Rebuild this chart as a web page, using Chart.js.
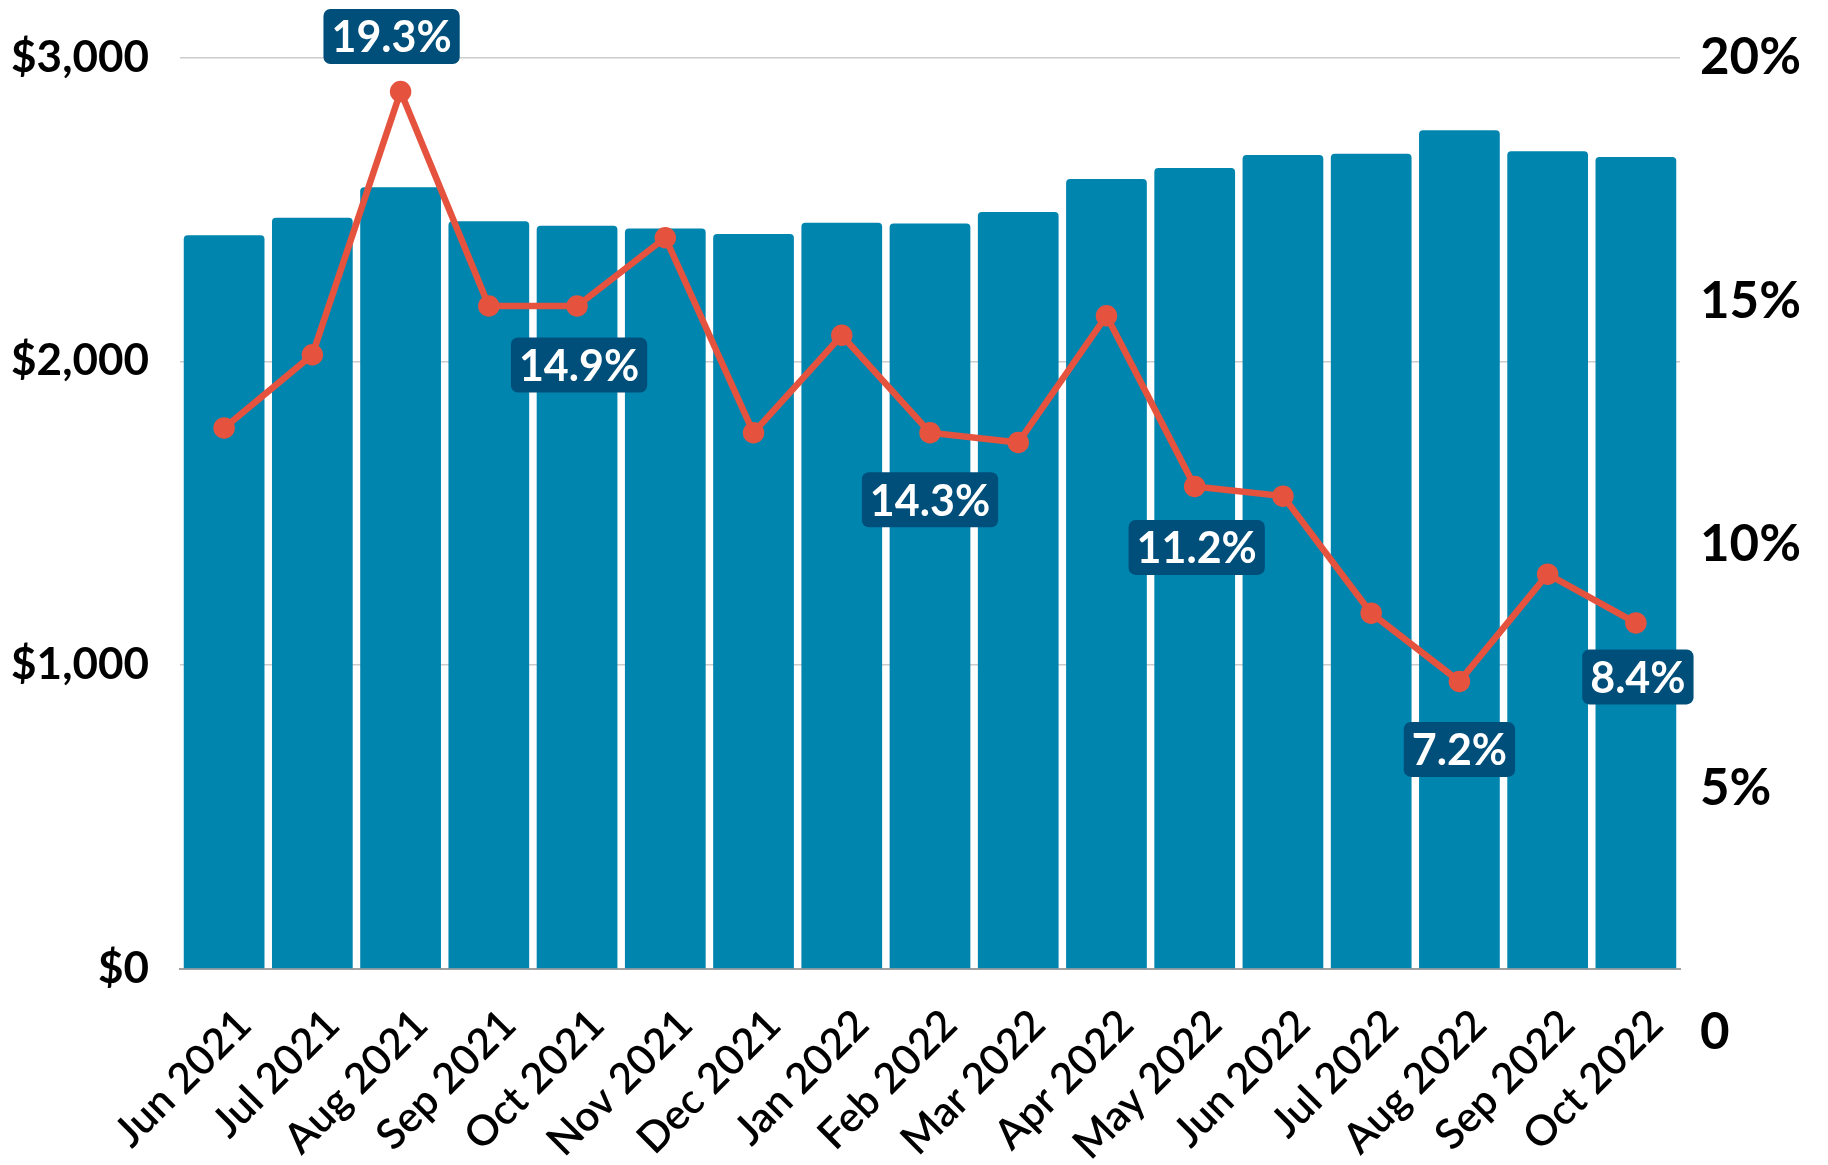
<!DOCTYPE html>
<html lang="en">
<head>
    <meta charset="UTF-8" />
    <title>Monthly Price and Yearly Change</title>
    <script src="https://cdn.jsdelivr.net/npm/chart.js"></script>
    <style>
        html, body { margin: 0; padding: 0; background: #ffffff; }
        #chartContainer { width: 1828px; height: 1165px; }
    </style>
</head>
<body>

<div id="chartContainer">
    <canvas id="myChart"></canvas>
</div>

<script>
    // data
    const months = ['Jun 2021', 'Jul 2021', 'Aug 2021', 'Sep 2021', 'Oct 2021', 'Nov 2021',
        'Dec 2021', 'Jan 2022', 'Feb 2022', 'Mar 2022', 'Apr 2022', 'May 2022',
        'Jun 2022', 'Jul 2022', 'Aug 2022', 'Sep 2022', 'Oct 2022'];
    const avgPrice = [2415, 2472, 2573, 2461, 2446, 2437, 2419, 2456, 2453, 2491,
        2600, 2636, 2679, 2683, 2760, 2691, 2672];
    const yoyChange = [12.4, 13.9, 19.3, 14.9, 14.9, 16.3, 12.3, 14.3, 12.3, 12.1,
        14.7, 11.2, 11.0, 8.6, 7.2, 9.4, 8.4];
    const leftTicks = [0, 1000, 2000, 3000];
    const rightTicks = [0, 5, 10, 15, 20];
    const calloutIdx = [2, 4, 8, 11, 14, 16];
    const calloutText = ['19.3%', '14.9%', '14.3%', '11.2%', '7.2%', '8.4%'];

    // where each callout box sits relative to its point (dx, dy)
    const calloutOffsets = [[-9, -55], [2, 59], [0, 67], [2, 61], [0, 68], [2, 54]];

    const BAR_BLUE = '#0085af';
    const LINE_RED = '#e5533f';
    const BOX_NAVY = '#004f7b';

    // draws the navy value boxes on top of the line
    const calloutPlugin = {
        id: 'callouts',
        afterDatasetsDraw(chart) {
            const meta = chart.getDatasetMeta(1);
            const ctx = chart.ctx;
            ctx.save();
            ctx.font = 'bold 43px Lato';
            ctx.textAlign = 'center';
            ctx.textBaseline = 'middle';
            calloutIdx.forEach((idx, i) => {
                const pt = meta.data[idx];
                const cx = pt.x + calloutOffsets[i][0];
                const cy = pt.y + calloutOffsets[i][1];
                const w = ctx.measureText(calloutText[i]).width + 16;
                const h = 55;
                ctx.fillStyle = BOX_NAVY;
                ctx.beginPath();
                ctx.roundRect(cx - w / 2, cy - h / 2, w, h, 7);
                ctx.fill();
                ctx.fillStyle = '#ffffff';
                ctx.fillText(calloutText[i], cx, cy + 2);
            });
            ctx.restore();
        }
    };

    const ctx = document.getElementById('myChart').getContext('2d');

    new Chart(ctx, {
        data: {
            labels: months,
            datasets: [{
                type: 'bar',
                data: avgPrice,
                yAxisID: 'y',
                backgroundColor: BAR_BLUE,
                borderRadius: { topLeft: 4, topRight: 4 },
                borderSkipped: 'start',
                barPercentage: 0.915,
                categoryPercentage: 1.0,
                order: 2
            }, {
                type: 'line',
                data: yoyChange,
                yAxisID: 'y1',
                borderColor: LINE_RED,
                backgroundColor: LINE_RED,
                borderWidth: 6.5,
                pointRadius: 7.5,
                pointHoverRadius: 7.5,
                tension: 0,
                clip: false,
                order: 1
            }]
        },
        options: {
            responsive: true,
            maintainAspectRatio: false,
            animation: false,
            layout: { padding: { top: 47, left: 0, right: 0, bottom: 0 } },
            plugins: {
                legend: { display: false },
                tooltip: { enabled: false }
            },
            scales: {
                x: {
                    offset: true,
                    grid: { display: false },
                    border: { display: true, color: '#a0a0a0', width: 2 },
                    ticks: {
                        color: '#000000',
                        font: { family: 'Lato', size: 42, weight: '600' },
                        maxRotation: 45,
                        minRotation: 45,
                        autoSkip: false,
                        padding: 23,
                        labelOffset: 20
                    },
                    afterFit(scale) { scale.height = 196; }
                },
                y: {
                    position: 'left',
                    min: 0,
                    max: 3000,
                    afterBuildTicks(scale) {
                        scale.ticks = leftTicks.map(v => ({ value: v }));
                    },
                    grid: { color: '#cccccc', lineWidth: 1.5, drawTicks: false },
                    border: { display: false },
                    ticks: {
                        color: '#000000',
                        font: { family: 'Lato', size: 44, weight: 'bold' },
                        padding: 31,
                        callback: v => '$' + v.toLocaleString('en-US')
                    },
                    afterFit(scale) { scale.width = 180; }
                },
                y1: {
                    position: 'right',
                    min: 1.3,
                    max: 20,
                    afterBuildTicks(scale) {
                        scale.ticks = rightTicks.map(v => ({ value: v }));
                    },
                    grid: { display: false, drawTicks: false },
                    border: { display: false },
                    ticks: {
                        color: '#000000',
                        font: { family: 'Lato', size: 51, weight: 'bold' },
                        padding: 20,
                        autoSkip: false,
                        callback: v => v === 0 ? '0' : v + '%'
                    },
                    afterFit(scale) { scale.width = 148; }
                }
            }
        },
        plugins: [calloutPlugin]
    });
</script>

</body>
</html>
